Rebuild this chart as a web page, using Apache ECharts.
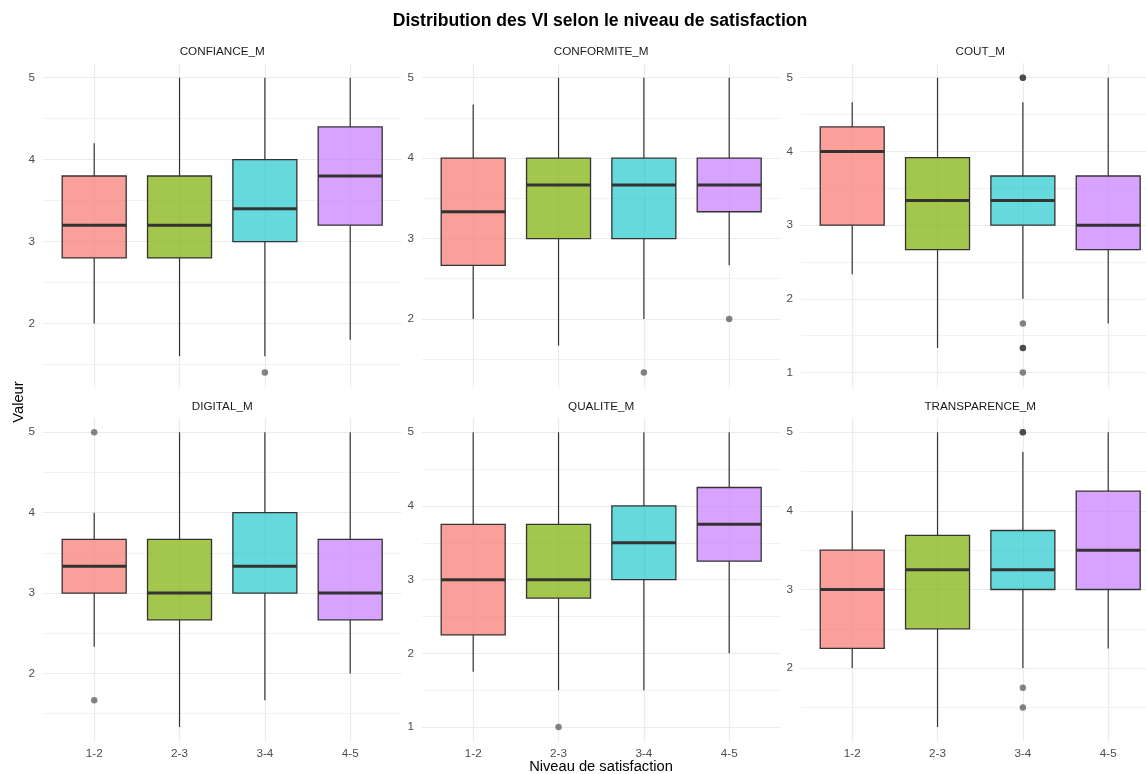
<!DOCTYPE html>
<html>
<head>
<meta charset="utf-8">
<title>Distribution des VI selon le niveau de satisfaction</title>
<script src="https://cdn.jsdelivr.net/npm/echarts@6/dist/echarts.min.js"></script>
<style>
  html, body { margin: 0; padding: 0; background: #fff; }
  #chart { width: 1146px; height: 774px; }
</style>
</head>
<body>
<div id="chart"></div>
<script>
// niveaux de satisfaction (axe x)
const categories = ['1-2', '2-3', '3-4', '4-5'];
const variables = ['CONFIANCE_M', 'CONFORMITE_M', 'COUT_M', 'DIGITAL_M', 'QUALITE_M', 'TRANSPARENCE_M'];

// stats des boites : [min moustache, Q1, mediane, Q3, max moustache]
const confianceBox = [[2.0, 2.8, 3.2, 3.8, 4.2], [1.6, 2.8, 3.2, 3.8, 5.0], [1.6, 3.0, 3.4, 4.0, 5.0], [1.8, 3.2, 3.8, 4.4, 5.0]];
const conformiteBox = [[2.0, 2.667, 3.333, 4.0, 4.667], [1.667, 3.0, 3.667, 4.0, 5.0], [2.0, 3.0, 3.667, 4.0, 5.0], [2.667, 3.333, 3.667, 4.0, 5.0]];
const coutBox = [[2.333, 3.0, 4.0, 4.333, 4.667], [1.333, 2.667, 3.333, 3.917, 5.0], [2.0, 3.0, 3.333, 3.667, 4.667], [1.667, 2.667, 3.0, 3.667, 5.0]];
const digitalBox = [[2.333, 3.0, 3.333, 3.667, 4.0], [1.333, 2.667, 3.0, 3.667, 5.0], [1.667, 3.0, 3.333, 4.0, 5.0], [2.0, 2.667, 3.0, 3.667, 5.0]];
const qualiteBox = [[1.75, 2.25, 3.0, 3.75, 5.0], [1.5, 2.75, 3.0, 3.75, 5.0], [1.5, 3.0, 3.5, 4.0, 5.0], [2.0, 3.25, 3.75, 4.25, 5.0]];
const transparenceBox = [[2.0, 2.25, 3.0, 3.5, 4.0], [1.25, 2.5, 3.25, 3.688, 5.0], [2.0, 3.0, 3.25, 3.75, 4.75], [2.25, 3.0, 3.5, 4.25, 5.0]];

// valeurs aberrantes par niveau
const confianceOut = [[], [], [1.4], []];
const conformiteOut = [[], [], [1.333], [2.0]];
const coutOut = [[], [], [5.0, 5.0, 1.667, 1.333, 1.333, 1.0], []];
const digitalOut = [[5.0, 1.667], [], [], []];
const qualiteOut = [[], [1.0], [], []];
const transparenceOut = [[], [], [5.0, 5.0, 1.75, 1.5], []];

const boxes = [confianceBox, conformiteBox, coutBox, digitalBox, qualiteBox, transparenceBox];
const outliers = [confianceOut, conformiteOut, coutOut, digitalOut, qualiteOut, transparenceOut];

const fills = ['rgba(248,118,109,0.7)', 'rgba(124,174,0,0.7)', 'rgba(0,191,196,0.6)', 'rgba(199,124,255,0.7)'];
const font = "'Liberation Sans', Arial, Helvetica, sans-serif";

// placement des panneaux (facettes 2 x 3)
const colLeft = [43, 422, 801];
const panelW = 358.4;
const rowTop = [63, 417.5];
const panelH = 324.3;

let myChart = echarts.init(document.getElementById('chart'));

function renderBox(params, api) {
  let x = api.value(0);
  let w = api.size([0.75, 0])[0];
  let pLo = api.coord([x, api.value(1)]);
  let pQ1 = api.coord([x, api.value(2)]);
  let pMed = api.coord([x, api.value(3)]);
  let pQ3 = api.coord([x, api.value(4)]);
  let pHi = api.coord([x, api.value(5)]);
  let line = { stroke: '#333333', lineWidth: 1.2 };
  return {
    type: 'group',
    children: [
      { type: 'line', shape: { x1: pLo[0], y1: pLo[1], x2: pQ1[0], y2: pQ1[1] }, style: line },
      { type: 'line', shape: { x1: pQ3[0], y1: pQ3[1], x2: pHi[0], y2: pHi[1] }, style: line },
      { type: 'rect', shape: { x: pQ3[0] - w / 2, y: pQ3[1], width: w, height: pQ1[1] - pQ3[1] },
        style: { fill: api.visual('color'), stroke: '#333333', lineWidth: 1.3 } },
      { type: 'line', shape: { x1: pMed[0] - w / 2, y1: pMed[1], x2: pMed[0] + w / 2, y2: pMed[1] },
        style: { stroke: '#333333', lineWidth: 3 } }
    ]
  };
}

let grids = [], xAxes = [], yAxes = [], series = [], texts = [];

variables.forEach(function (name, i) {
  let row = Math.floor(i / 3), col = i % 3;
  grids.push({ left: colLeft[col], top: rowTop[row], width: panelW, height: panelH, outerBoundsMode: 'none', containLabel: false });

  // etendue y : donnees + 5 %
  let all = [];
  boxes[i].forEach(function (b) { all.push(b[0], b[4]); });
  outliers[i].forEach(function (o) { all = all.concat(o); });
  let lo = Math.min.apply(null, all), hi = Math.max.apply(null, all);
  let pad = (hi - lo) * 0.05;

  xAxes.push({
    type: 'value', gridIndex: i, min: 0.4, max: 4.6,
    axisLine: { show: false }, axisTick: { show: false },
    axisLabel: {
      show: row === 1, color: '#4d4d4d', fontSize: 11.7, fontFamily: font, margin: 6,
      showMinLabel: false, showMaxLabel: false,
      formatter: function (v) { return Number.isInteger(v) && v >= 1 && v <= 4 ? categories[v - 1] : ''; }
    },
    splitLine: { show: true, showMinLine: false, showMaxLine: false, lineStyle: { color: '#ebebeb', width: 1.2 } }
  });
  yAxes.push({
    type: 'value', gridIndex: i, min: lo - pad, max: hi + pad,
    axisLine: { show: false }, axisTick: { show: false },
    axisLabel: { color: '#4d4d4d', fontSize: 11.7, fontFamily: font, margin: 8, showMinLabel: false, showMaxLabel: false,
      formatter: function (v) { return Number.isInteger(v) ? String(v) : ''; } },
    splitLine: { show: true, showMinLine: false, showMaxLine: false, lineStyle: { color: '#ebebeb', width: 1.2 } },
    minorTick: { show: false, splitNumber: 2 },
    minorSplitLine: { show: true, lineStyle: { color: '#f2f2f2', width: 1 } }
  });

  series.push({
    type: 'custom', xAxisIndex: i, yAxisIndex: i,
    renderItem: renderBox,
    encode: { x: 0, y: [1, 2, 3, 4, 5] },
    data: boxes[i].map(function (b, k) {
      return { value: [k + 1].concat(b), itemStyle: { color: fills[k] } };
    }),
    z: 3
  });

  let pts = [];
  outliers[i].forEach(function (o, k) { o.forEach(function (v) { pts.push([k + 1, v]); }); });
  series.push({
    type: 'scatter', xAxisIndex: i, yAxisIndex: i,
    symbol: 'circle', symbolSize: 6.5,
    itemStyle: { color: 'rgba(30,30,30,0.68)' },
    data: pts, z: 4
  });

  texts.push({
    type: 'text', x: colLeft[col] + panelW / 2, y: row === 0 ? 52 : 406.5,
    style: { text: name, font: '11.7px ' + font, fill: '#1a1a1a', align: 'center', verticalAlign: 'middle' }
  });
});

texts.push({
  type: 'text', x: 600, y: 21,
  style: { text: 'Distribution des VI selon le niveau de satisfaction', font: 'bold 17.6px ' + font, fill: '#000', align: 'center', verticalAlign: 'middle' }
});
texts.push({
  type: 'text', x: 601, y: 767,
  style: { text: 'Niveau de satisfaction', font: '14.7px ' + font, fill: '#000', align: 'center', verticalAlign: 'middle' }
});
texts.push({
  type: 'text', x: 19, y: 402, rotation: Math.PI / 2,
  style: { text: 'Valeur', font: '14.7px ' + font, fill: '#000', align: 'center', verticalAlign: 'middle' }
});

let option = {
  backgroundColor: '#ffffff',
  animation: false,
  grid: grids,
  xAxis: xAxes,
  yAxis: yAxes,
  series: series,
  graphic: texts
};
myChart.setOption(option);
</script>
</body>
</html>
